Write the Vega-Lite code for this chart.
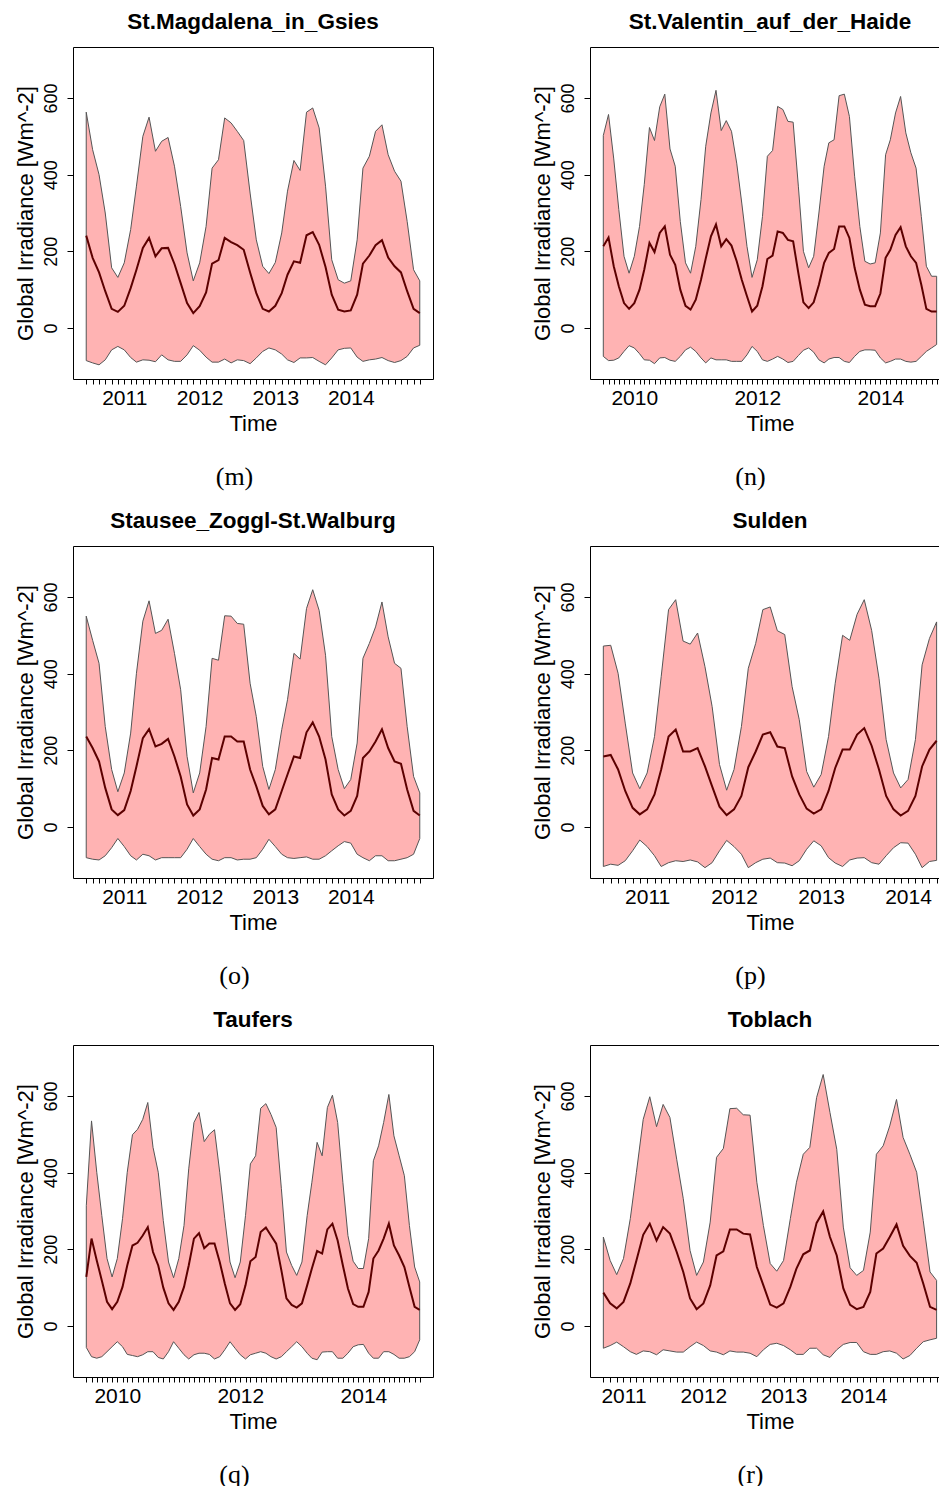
{
"$schema":"https://vega.github.io/schema/vega-lite/v6.json",
"padding":{"left":13,"top":10,"right":0,"bottom":0},
"autosize":{"type":"pad"},
"config":{
 "font":"Liberation Sans",
 "view":{"stroke":"black","strokeWidth":1},
 "axis":{"grid":false,"domain":false,"tickColor":"black","tickWidth":1,"labelColor":"black","titleColor":"black","labelFont":"Liberation Sans","titleFont":"Liberation Sans","titleFontWeight":"normal"},
 "axisX":{"tickSize":5,"labelFontSize":21,"titleFontSize":22,"labelPadding":3,"titlePadding":5,"labelOverlap":false,"labelFlush":false,"labelAngle":0},
 "axisY":{"tickSize":6,"labelFontSize":18,"labelAngle":-90,"labelAlign":"center","labelBaseline":"bottom","labelPadding":7,"titleFontSize":22,"titlePadding":5},
 "title":{"fontSize":22.5,"font":"Liberation Sans","fontWeight":"bold","color":"black"}
},
"datasets":{
"m":[
{"t":"2010-07-01","u":563,"a":241,"l":-85},{"t":"2010-08-01","u":465,"a":183,"l":-91},{"t":"2010-09-01","u":400,"a":145,"l":-96},{"t":"2010-10-01","u":300,"a":96,"l":-83},{"t":"2010-11-01","u":157,"a":50,"l":-57},{"t":"2010-12-01","u":132,"a":42,"l":-48},
{"t":"2011-01-01","u":170,"a":58,"l":-57},{"t":"2011-02-01","u":257,"a":104,"l":-77},{"t":"2011-03-01","u":370,"a":152,"l":-89},{"t":"2011-04-01","u":500,"a":209,"l":-83},{"t":"2011-05-01","u":550,"a":235,"l":-84},{"t":"2011-06-01","u":461,"a":187,"l":-88},{"t":"2011-07-01","u":487,"a":208,"l":-70},{"t":"2011-08-01","u":497,"a":209,"l":-83},{"t":"2011-09-01","u":422,"a":167,"l":-87},{"t":"2011-10-01","u":317,"a":117,"l":-87},{"t":"2011-11-01","u":196,"a":65,"l":-70},{"t":"2011-12-01","u":123,"a":39,"l":-46},
{"t":"2012-01-01","u":170,"a":57,"l":-58},{"t":"2012-02-01","u":265,"a":93,"l":-76},{"t":"2012-03-01","u":417,"a":168,"l":-89},{"t":"2012-04-01","u":439,"a":177,"l":-89},{"t":"2012-05-01","u":548,"a":235,"l":-81},{"t":"2012-06-01","u":535,"a":224,"l":-91},{"t":"2012-07-01","u":513,"a":216,"l":-83},{"t":"2012-08-01","u":489,"a":204,"l":-85},{"t":"2012-09-01","u":352,"a":145,"l":-93},{"t":"2012-10-01","u":230,"a":91,"l":-78},{"t":"2012-11-01","u":161,"a":50,"l":-61},{"t":"2012-12-01","u":142,"a":43,"l":-52},
{"t":"2013-01-01","u":171,"a":58,"l":-57},{"t":"2013-02-01","u":248,"a":91,"l":-68},{"t":"2013-03-01","u":357,"a":139,"l":-83},{"t":"2013-04-01","u":437,"a":174,"l":-90},{"t":"2013-05-01","u":411,"a":170,"l":-78},{"t":"2013-06-01","u":563,"a":242,"l":-78},{"t":"2013-07-01","u":574,"a":250,"l":-77},{"t":"2013-08-01","u":522,"a":217,"l":-87},{"t":"2013-09-01","u":370,"a":159,"l":-96},{"t":"2013-10-01","u":178,"a":87,"l":-78},{"t":"2013-11-01","u":126,"a":48,"l":-57},{"t":"2013-12-01","u":117,"a":43,"l":-53},
{"t":"2014-01-01","u":123,"a":46,"l":-52},{"t":"2014-02-01","u":230,"a":87,"l":-76},{"t":"2014-03-01","u":417,"a":168,"l":-87},{"t":"2014-04-01","u":448,"a":189,"l":-83},{"t":"2014-05-01","u":513,"a":216,"l":-81},{"t":"2014-06-01","u":530,"a":229,"l":-77},{"t":"2014-07-01","u":452,"a":184,"l":-85},{"t":"2014-08-01","u":409,"a":161,"l":-90},{"t":"2014-09-01","u":383,"a":145,"l":-85},{"t":"2014-10-01","u":278,"a":96,"l":-74},{"t":"2014-11-01","u":152,"a":50,"l":-52},{"t":"2014-12-01","u":123,"a":39,"l":-45}
],
"n":[
{"t":"2009-07-01","u":502,"a":213,"l":-74},{"t":"2009-08-01","u":557,"a":236,"l":-85},{"t":"2009-09-01","u":441,"a":161,"l":-84},{"t":"2009-10-01","u":309,"a":109,"l":-78},{"t":"2009-11-01","u":187,"a":65,"l":-61},{"t":"2009-12-01","u":143,"a":50,"l":-46},
{"t":"2010-01-01","u":187,"a":65,"l":-52},{"t":"2010-02-01","u":265,"a":100,"l":-67},{"t":"2010-03-01","u":374,"a":152,"l":-83},{"t":"2010-04-01","u":523,"a":222,"l":-84},{"t":"2010-05-01","u":489,"a":198,"l":-93},{"t":"2010-06-01","u":577,"a":248,"l":-78},{"t":"2010-07-01","u":610,"a":265,"l":-77},{"t":"2010-08-01","u":467,"a":191,"l":-84},{"t":"2010-09-01","u":422,"a":165,"l":-87},{"t":"2010-10-01","u":278,"a":100,"l":-74},{"t":"2010-11-01","u":170,"a":58,"l":-57},{"t":"2010-12-01","u":143,"a":48,"l":-50},
{"t":"2011-01-01","u":213,"a":74,"l":-61},{"t":"2011-02-01","u":335,"a":126,"l":-78},{"t":"2011-03-01","u":474,"a":181,"l":-91},{"t":"2011-04-01","u":561,"a":239,"l":-78},{"t":"2011-05-01","u":620,"a":270,"l":-83},{"t":"2011-06-01","u":515,"a":213,"l":-83},{"t":"2011-07-01","u":541,"a":232,"l":-83},{"t":"2011-08-01","u":513,"a":215,"l":-87},{"t":"2011-09-01","u":430,"a":174,"l":-87},{"t":"2011-10-01","u":326,"a":126,"l":-87},{"t":"2011-11-01","u":213,"a":83,"l":-70},{"t":"2011-12-01","u":132,"a":43,"l":-48},
{"t":"2012-01-01","u":178,"a":58,"l":-61},{"t":"2012-02-01","u":291,"a":109,"l":-83},{"t":"2012-03-01","u":448,"a":180,"l":-87},{"t":"2012-04-01","u":463,"a":189,"l":-81},{"t":"2012-05-01","u":578,"a":252,"l":-74},{"t":"2012-06-01","u":570,"a":248,"l":-81},{"t":"2012-07-01","u":539,"a":230,"l":-90},{"t":"2012-08-01","u":537,"a":226,"l":-87},{"t":"2012-09-01","u":370,"a":143,"l":-72},{"t":"2012-10-01","u":200,"a":67,"l":-58},{"t":"2012-11-01","u":157,"a":52,"l":-52},{"t":"2012-12-01","u":187,"a":67,"l":-63},
{"t":"2013-01-01","u":300,"a":113,"l":-83},{"t":"2013-02-01","u":422,"a":170,"l":-91},{"t":"2013-03-01","u":483,"a":196,"l":-81},{"t":"2013-04-01","u":491,"a":206,"l":-77},{"t":"2013-05-01","u":606,"a":265,"l":-77},{"t":"2013-06-01","u":610,"a":265,"l":-87},{"t":"2013-07-01","u":552,"a":235,"l":-90},{"t":"2013-08-01","u":396,"a":157,"l":-74},{"t":"2013-09-01","u":265,"a":100,"l":-61},{"t":"2013-10-01","u":174,"a":61,"l":-57},{"t":"2013-11-01","u":167,"a":57,"l":-57},{"t":"2013-12-01","u":170,"a":57,"l":-58},
{"t":"2014-01-01","u":248,"a":90,"l":-78},{"t":"2014-02-01","u":452,"a":183,"l":-91},{"t":"2014-03-01","u":491,"a":204,"l":-87},{"t":"2014-04-01","u":561,"a":243,"l":-81},{"t":"2014-05-01","u":604,"a":263,"l":-81},{"t":"2014-06-01","u":509,"a":213,"l":-87},{"t":"2014-07-01","u":457,"a":187,"l":-89},{"t":"2014-08-01","u":417,"a":170,"l":-87},{"t":"2014-09-01","u":291,"a":113,"l":-74},{"t":"2014-10-01","u":161,"a":50,"l":-61},{"t":"2014-11-01","u":135,"a":43,"l":-52},{"t":"2014-12-01","u":135,"a":43,"l":-43}
],
"o":[
{"t":"2010-07-01","u":550,"a":236,"l":-80},{"t":"2010-08-01","u":487,"a":206,"l":-84},{"t":"2010-09-01","u":427,"a":171,"l":-86},{"t":"2010-10-01","u":262,"a":102,"l":-75},{"t":"2010-11-01","u":150,"a":46,"l":-54},{"t":"2010-12-01","u":92,"a":31,"l":-30},
{"t":"2011-01-01","u":141,"a":44,"l":-51},{"t":"2011-02-01","u":245,"a":94,"l":-75},{"t":"2011-03-01","u":401,"a":158,"l":-86},{"t":"2011-04-01","u":537,"a":232,"l":-71},{"t":"2011-05-01","u":590,"a":255,"l":-75},{"t":"2011-06-01","u":505,"a":210,"l":-86},{"t":"2011-07-01","u":513,"a":217,"l":-80},{"t":"2011-08-01","u":542,"a":230,"l":-80},{"t":"2011-09-01","u":453,"a":184,"l":-80},{"t":"2011-10-01","u":358,"a":132,"l":-80},{"t":"2011-11-01","u":184,"a":59,"l":-58},{"t":"2011-12-01","u":89,"a":30,"l":-30},
{"t":"2012-01-01","u":141,"a":46,"l":-51},{"t":"2012-02-01","u":262,"a":98,"l":-71},{"t":"2012-03-01","u":440,"a":180,"l":-84},{"t":"2012-04-01","u":435,"a":176,"l":-88},{"t":"2012-05-01","u":551,"a":236,"l":-80},{"t":"2012-06-01","u":550,"a":236,"l":-80},{"t":"2012-07-01","u":531,"a":223,"l":-86},{"t":"2012-08-01","u":529,"a":223,"l":-84},{"t":"2012-09-01","u":375,"a":150,"l":-84},{"t":"2012-10-01","u":288,"a":106,"l":-80},{"t":"2012-11-01","u":158,"a":55,"l":-58},{"t":"2012-12-01","u":98,"a":33,"l":-32},
{"t":"2013-01-01","u":150,"a":46,"l":-51},{"t":"2013-02-01","u":254,"a":94,"l":-71},{"t":"2013-03-01","u":332,"a":137,"l":-80},{"t":"2013-04-01","u":453,"a":184,"l":-82},{"t":"2013-05-01","u":438,"a":180,"l":-80},{"t":"2013-06-01","u":570,"a":247,"l":-78},{"t":"2013-07-01","u":619,"a":273,"l":-84},{"t":"2013-08-01","u":565,"a":236,"l":-84},{"t":"2013-09-01","u":448,"a":176,"l":-75},{"t":"2013-10-01","u":236,"a":85,"l":-62},{"t":"2013-11-01","u":150,"a":46,"l":-49},{"t":"2013-12-01","u":100,"a":30,"l":-38},
{"t":"2014-01-01","u":124,"a":42,"l":-42},{"t":"2014-02-01","u":219,"a":81,"l":-71},{"t":"2014-03-01","u":440,"a":180,"l":-80},{"t":"2014-04-01","u":479,"a":197,"l":-88},{"t":"2014-05-01","u":522,"a":223,"l":-75},{"t":"2014-06-01","u":587,"a":255,"l":-75},{"t":"2014-07-01","u":496,"a":206,"l":-88},{"t":"2014-08-01","u":427,"a":171,"l":-88},{"t":"2014-09-01","u":414,"a":165,"l":-84},{"t":"2014-10-01","u":262,"a":98,"l":-80},{"t":"2014-11-01","u":132,"a":42,"l":-71},{"t":"2014-12-01","u":89,"a":30,"l":-30}
],
"p":[
{"t":"2010-07-01","u":472,"a":184,"l":-103},{"t":"2010-08-01","u":474,"a":188,"l":-97},{"t":"2010-09-01","u":401,"a":150,"l":-100},{"t":"2010-10-01","u":271,"a":94,"l":-88},{"t":"2010-11-01","u":141,"a":50,"l":-62},{"t":"2010-12-01","u":100,"a":33,"l":-34},
{"t":"2011-01-01","u":141,"a":46,"l":-51},{"t":"2011-02-01","u":236,"a":85,"l":-75},{"t":"2011-03-01","u":392,"a":150,"l":-103},{"t":"2011-04-01","u":567,"a":236,"l":-93},{"t":"2011-05-01","u":593,"a":254,"l":-88},{"t":"2011-06-01","u":485,"a":197,"l":-90},{"t":"2011-07-01","u":477,"a":197,"l":-86},{"t":"2011-08-01","u":506,"a":206,"l":-91},{"t":"2011-09-01","u":418,"a":158,"l":-106},{"t":"2011-10-01","u":314,"a":106,"l":-93},{"t":"2011-11-01","u":163,"a":53,"l":-62},{"t":"2011-12-01","u":96,"a":31,"l":-35},
{"t":"2012-01-01","u":150,"a":46,"l":-51},{"t":"2012-02-01","u":262,"a":81,"l":-71},{"t":"2012-03-01","u":414,"a":156,"l":-106},{"t":"2012-04-01","u":479,"a":197,"l":-93},{"t":"2012-05-01","u":567,"a":241,"l":-84},{"t":"2012-06-01","u":574,"a":247,"l":-81},{"t":"2012-07-01","u":512,"a":210,"l":-93},{"t":"2012-08-01","u":502,"a":206,"l":-94},{"t":"2012-09-01","u":366,"a":132,"l":-101},{"t":"2012-10-01","u":280,"a":85,"l":-88},{"t":"2012-11-01","u":145,"a":48,"l":-58},{"t":"2012-12-01","u":104,"a":35,"l":-36},
{"t":"2013-01-01","u":137,"a":46,"l":-49},{"t":"2013-02-01","u":236,"a":94,"l":-80},{"t":"2013-03-01","u":375,"a":154,"l":-94},{"t":"2013-04-01","u":500,"a":202,"l":-103},{"t":"2013-05-01","u":487,"a":202,"l":-86},{"t":"2013-06-01","u":555,"a":241,"l":-81},{"t":"2013-07-01","u":593,"a":258,"l":-80},{"t":"2013-08-01","u":513,"a":212,"l":-93},{"t":"2013-09-01","u":388,"a":150,"l":-97},{"t":"2013-10-01","u":228,"a":81,"l":-75},{"t":"2013-11-01","u":141,"a":46,"l":-54},{"t":"2013-12-01","u":102,"a":30,"l":-41},
{"t":"2014-01-01","u":124,"a":42,"l":-42},{"t":"2014-02-01","u":228,"a":81,"l":-71},{"t":"2014-03-01","u":423,"a":158,"l":-106},{"t":"2014-04-01","u":492,"a":202,"l":-90},{"t":"2014-05-01","u":535,"a":225,"l":-87}
],
"q":[
{"t":"2009-07-01","u":314,"a":128,"l":-56},{"t":"2009-08-01","u":535,"a":228,"l":-80},{"t":"2009-09-01","u":401,"a":171,"l":-84},{"t":"2009-10-01","u":288,"a":119,"l":-80},{"t":"2009-11-01","u":176,"a":63,"l":-67},{"t":"2009-12-01","u":128,"a":44,"l":-54},
{"t":"2010-01-01","u":176,"a":63,"l":-41},{"t":"2010-02-01","u":280,"a":102,"l":-54},{"t":"2010-03-01","u":401,"a":158,"l":-74},{"t":"2010-04-01","u":499,"a":210,"l":-77},{"t":"2010-05-01","u":513,"a":217,"l":-80},{"t":"2010-06-01","u":539,"a":236,"l":-75},{"t":"2010-07-01","u":583,"a":258,"l":-67},{"t":"2010-08-01","u":466,"a":193,"l":-67},{"t":"2010-09-01","u":401,"a":158,"l":-82},{"t":"2010-10-01","u":275,"a":100,"l":-86},{"t":"2010-11-01","u":167,"a":59,"l":-67},{"t":"2010-12-01","u":126,"a":42,"l":-41},
{"t":"2011-01-01","u":176,"a":63,"l":-58},{"t":"2011-02-01","u":262,"a":102,"l":-75},{"t":"2011-03-01","u":410,"a":158,"l":-86},{"t":"2011-04-01","u":531,"a":228,"l":-75},{"t":"2011-05-01","u":557,"a":242,"l":-71},{"t":"2011-06-01","u":481,"a":203,"l":-71},{"t":"2011-07-01","u":500,"a":215,"l":-74},{"t":"2011-08-01","u":512,"a":215,"l":-86},{"t":"2011-09-01","u":401,"a":167,"l":-80},{"t":"2011-10-01","u":280,"a":111,"l":-62},{"t":"2011-11-01","u":167,"a":59,"l":-41},{"t":"2011-12-01","u":126,"a":42,"l":-58},
{"t":"2012-01-01","u":167,"a":57,"l":-75},{"t":"2012-02-01","u":288,"a":106,"l":-86},{"t":"2012-03-01","u":423,"a":169,"l":-75},{"t":"2012-04-01","u":444,"a":180,"l":-71},{"t":"2012-05-01","u":568,"a":245,"l":-67},{"t":"2012-06-01","u":580,"a":257,"l":-71},{"t":"2012-07-01","u":552,"a":236,"l":-80},{"t":"2012-08-01","u":518,"a":215,"l":-86},{"t":"2012-09-01","u":358,"a":145,"l":-80},{"t":"2012-10-01","u":193,"a":72,"l":-67},{"t":"2012-11-01","u":158,"a":55,"l":-54},{"t":"2012-12-01","u":132,"a":48,"l":-41},
{"t":"2013-01-01","u":167,"a":59,"l":-54},{"t":"2013-02-01","u":288,"a":106,"l":-71},{"t":"2013-03-01","u":375,"a":150,"l":-84},{"t":"2013-04-01","u":479,"a":196,"l":-88},{"t":"2013-05-01","u":444,"a":189,"l":-68},{"t":"2013-06-01","u":570,"a":252,"l":-67},{"t":"2013-07-01","u":602,"a":267,"l":-67},{"t":"2013-08-01","u":531,"a":223,"l":-84},{"t":"2013-09-01","u":375,"a":158,"l":-84},{"t":"2013-10-01","u":236,"a":98,"l":-71},{"t":"2013-11-01","u":169,"a":57,"l":-54},{"t":"2013-12-01","u":150,"a":50,"l":-49},
{"t":"2014-01-01","u":150,"a":50,"l":-48},{"t":"2014-02-01","u":228,"a":89,"l":-71},{"t":"2014-03-01","u":431,"a":176,"l":-84},{"t":"2014-04-01","u":470,"a":197,"l":-84},{"t":"2014-05-01","u":531,"a":228,"l":-67},{"t":"2014-06-01","u":604,"a":267,"l":-67},{"t":"2014-07-01","u":496,"a":210,"l":-74},{"t":"2014-08-01","u":444,"a":184,"l":-84},{"t":"2014-09-01","u":392,"a":154,"l":-84},{"t":"2014-10-01","u":262,"a":102,"l":-80},{"t":"2014-11-01","u":154,"a":50,"l":-67},{"t":"2014-12-01","u":115,"a":42,"l":-36}
],
"r":[
{"t":"2010-10-01","u":232,"a":87,"l":-58},{"t":"2010-11-01","u":171,"a":59,"l":-51},{"t":"2010-12-01","u":134,"a":46,"l":-42},
{"t":"2011-01-01","u":176,"a":63,"l":-54},{"t":"2011-02-01","u":280,"a":111,"l":-67},{"t":"2011-03-01","u":401,"a":171,"l":-74},{"t":"2011-04-01","u":539,"a":238,"l":-65},{"t":"2011-05-01","u":598,"a":267,"l":-67},{"t":"2011-06-01","u":520,"a":223,"l":-75},{"t":"2011-07-01","u":578,"a":258,"l":-62},{"t":"2011-08-01","u":544,"a":241,"l":-65},{"t":"2011-09-01","u":435,"a":193,"l":-68},{"t":"2011-10-01","u":332,"a":141,"l":-68},{"t":"2011-11-01","u":197,"a":72,"l":-54},{"t":"2011-12-01","u":132,"a":44,"l":-42},
{"t":"2012-01-01","u":167,"a":59,"l":-51},{"t":"2012-02-01","u":271,"a":106,"l":-65},{"t":"2012-03-01","u":440,"a":184,"l":-68},{"t":"2012-04-01","u":463,"a":195,"l":-75},{"t":"2012-05-01","u":567,"a":252,"l":-65},{"t":"2012-06-01","u":568,"a":252,"l":-68},{"t":"2012-07-01","u":551,"a":241,"l":-68},{"t":"2012-08-01","u":550,"a":239,"l":-71},{"t":"2012-09-01","u":375,"a":154,"l":-80},{"t":"2012-10-01","u":262,"a":106,"l":-62},{"t":"2012-11-01","u":163,"a":56,"l":-48},{"t":"2012-12-01","u":143,"a":48,"l":-45},
{"t":"2013-01-01","u":171,"a":59,"l":-51},{"t":"2013-02-01","u":280,"a":102,"l":-62},{"t":"2013-03-01","u":375,"a":150,"l":-74},{"t":"2013-04-01","u":448,"a":187,"l":-74},{"t":"2013-05-01","u":466,"a":197,"l":-58},{"t":"2013-06-01","u":596,"a":269,"l":-58},{"t":"2013-07-01","u":656,"a":299,"l":-75},{"t":"2013-08-01","u":557,"a":232,"l":-82},{"t":"2013-09-01","u":461,"a":184,"l":-62},{"t":"2013-10-01","u":258,"a":98,"l":-48},{"t":"2013-11-01","u":152,"a":55,"l":-43},{"t":"2013-12-01","u":132,"a":44,"l":-43},
{"t":"2014-01-01","u":145,"a":50,"l":-67},{"t":"2014-02-01","u":245,"a":89,"l":-74},{"t":"2014-03-01","u":448,"a":189,"l":-74},{"t":"2014-04-01","u":470,"a":202,"l":-67},{"t":"2014-05-01","u":522,"a":232,"l":-65},{"t":"2014-06-01","u":591,"a":265,"l":-71},{"t":"2014-07-01","u":492,"a":209,"l":-86},{"t":"2014-08-01","u":448,"a":183,"l":-77},{"t":"2014-09-01","u":401,"a":165,"l":-58},{"t":"2014-10-01","u":275,"a":111,"l":-41},{"t":"2014-11-01","u":141,"a":50,"l":-36},{"t":"2014-12-01","u":119,"a":42,"l":-32}
]
},
"spacing":19,
"vconcat":[
{"hconcat":[
 {"vconcat":[{"width":360,"height":332,"data":{"name":"m"},"title":{"text":"St.Magdalena_in_Gsies","frame":"group","baseline":"alphabetic","offset":-4},
  "encoding":{"x":{"field":"t","type":"temporal","scale":{"type":"utc","domain":[{"year":2010,"month":4,"date":28,"utc":true},{"year":2015,"month":2,"date":3,"utc":true}]},"axis":{"title":"Time","titleX":180,"tickCount":{"interval":"month","step":1},"tickOpacity":{"condition":{"test":"datum.value >= utc(2010,5,20) && datum.value <= utc(2014,11,10)","value":1},"value":0},"labelExpr":"utcmonth(datum.value)==0 && datum.value <= utc(2014,11,10) ? utcFormat(datum.value,'%Y') : ''"}}},
  "layer":[
   {"mark":{"type":"area","fill":"#FFB3B3","fillOpacity":1,"stroke":"#555555","strokeWidth":1,"clip":true},"encoding":{"y":{"field":"u","type":"quantitative","scale":{"domain":[-133,733],"nice":false,"zero":false},"axis":{"title":"Global Irradiance [Wm^-2]","values":[0,200,400,600]}},"y2":{"field":"l"}}},
   {"mark":{"type":"line","color":"#5C0000","strokeWidth":2,"clip":true},"encoding":{"y":{"field":"a","type":"quantitative","axis":{"title":"Global Irradiance [Wm^-2]","values":[0,200,400,600]}}}}
  ]}],
  "title":{"text":"(m)","orient":"bottom","anchor":"middle","font":"Liberation Serif","fontSize":26,"fontWeight":"normal","offset":29,"dx":11}},
 {"vconcat":[{"width":349,"height":332,"data":{"name":"n"},"title":{"text":"St.Valentin_auf_der_Haide","frame":"group","baseline":"alphabetic","offset":-4,"dx":5.5},
  "encoding":{"x":{"field":"t","type":"temporal","scale":{"type":"utc","domain":[{"year":2009,"month":4,"date":13,"utc":true},{"year":2014,"month":12,"date":15,"utc":true}]},"axis":{"title":"Time","titleX":180,"tickCount":{"interval":"month","step":1},"tickOpacity":{"condition":{"test":"datum.value >= utc(2009,5,20) && datum.value <= utc(2014,11,10)","value":1},"value":0},"labelExpr":"utcmonth(datum.value)==0 && utcyear(datum.value)%2==0 ? utcFormat(datum.value,'%Y') : ''"}}},
  "layer":[
   {"mark":{"type":"area","fill":"#FFB3B3","fillOpacity":1,"stroke":"#555555","strokeWidth":1,"clip":true},"encoding":{"y":{"field":"u","type":"quantitative","scale":{"domain":[-133,733],"nice":false,"zero":false},"axis":{"title":"Global Irradiance [Wm^-2]","values":[0,200,400,600]}},"y2":{"field":"l"}}},
   {"mark":{"type":"line","color":"#5C0000","strokeWidth":2,"clip":true},"encoding":{"y":{"field":"a","type":"quantitative","axis":{"title":"Global Irradiance [Wm^-2]","values":[0,200,400,600]}}}}
  ]}],
  "title":{"text":"(n)","orient":"bottom","anchor":"middle","font":"Liberation Serif","fontSize":26,"fontWeight":"normal","offset":29,"dx":15.5}}
],"spacing":96},
{"hconcat":[
 {"vconcat":[{"width":360,"height":332,"data":{"name":"o"},"title":{"text":"Stausee_Zoggl-St.Walburg","frame":"group","baseline":"alphabetic","offset":-4},
  "encoding":{"x":{"field":"t","type":"temporal","scale":{"type":"utc","domain":[{"year":2010,"month":4,"date":28,"utc":true},{"year":2015,"month":2,"date":3,"utc":true}]},"axis":{"title":"Time","titleX":180,"tickCount":{"interval":"month","step":1},"tickOpacity":{"condition":{"test":"datum.value >= utc(2010,5,20) && datum.value <= utc(2014,11,10)","value":1},"value":0},"labelExpr":"utcmonth(datum.value)==0 && datum.value <= utc(2014,11,10) ? utcFormat(datum.value,'%Y') : ''"}}},
  "layer":[
   {"mark":{"type":"area","fill":"#FFB3B3","fillOpacity":1,"stroke":"#555555","strokeWidth":1,"clip":true},"encoding":{"y":{"field":"u","type":"quantitative","scale":{"domain":[-133,733],"nice":false,"zero":false},"axis":{"title":"Global Irradiance [Wm^-2]","values":[0,200,400,600]}},"y2":{"field":"l"}}},
   {"mark":{"type":"line","color":"#5C0000","strokeWidth":2,"clip":true},"encoding":{"y":{"field":"a","type":"quantitative","axis":{"title":"Global Irradiance [Wm^-2]","values":[0,200,400,600]}}}}
  ]}],
  "title":{"text":"(o)","orient":"bottom","anchor":"middle","font":"Liberation Serif","fontSize":26,"fontWeight":"normal","offset":29,"dx":11}},
 {"vconcat":[{"width":349,"height":332,"data":{"name":"p"},"title":{"text":"Sulden","frame":"group","baseline":"alphabetic","offset":-4,"dx":5.5},
  "encoding":{"x":{"field":"t","type":"temporal","scale":{"type":"utc","domain":[{"year":2010,"month":5,"date":6,"utc":true},{"year":2014,"month":5,"date":11,"utc":true}]},"axis":{"title":"Time","titleX":180,"tickCount":{"interval":"month","step":1},"tickOpacity":{"condition":{"test":"datum.value >= utc(2010,5,20) && datum.value <= utc(2014,4,10)","value":1},"value":0},"labelExpr":"utcmonth(datum.value)==0 ? utcFormat(datum.value,'%Y') : ''"}}},
  "layer":[
   {"mark":{"type":"area","fill":"#FFB3B3","fillOpacity":1,"stroke":"#555555","strokeWidth":1,"clip":true},"encoding":{"y":{"field":"u","type":"quantitative","scale":{"domain":[-133,733],"nice":false,"zero":false},"axis":{"title":"Global Irradiance [Wm^-2]","values":[0,200,400,600]}},"y2":{"field":"l"}}},
   {"mark":{"type":"line","color":"#5C0000","strokeWidth":2,"clip":true},"encoding":{"y":{"field":"a","type":"quantitative","axis":{"title":"Global Irradiance [Wm^-2]","values":[0,200,400,600]}}}}
  ]}],
  "title":{"text":"(p)","orient":"bottom","anchor":"middle","font":"Liberation Serif","fontSize":26,"fontWeight":"normal","offset":29,"dx":15.5}}
],"spacing":96},
{"hconcat":[
 {"vconcat":[{"width":360,"height":332,"data":{"name":"q"},"title":{"text":"Taufers","frame":"group","baseline":"alphabetic","offset":-4},
  "encoding":{"x":{"field":"t","type":"temporal","scale":{"type":"utc","domain":[{"year":2009,"month":4,"date":13,"utc":true},{"year":2015,"month":2,"date":18,"utc":true}]},"axis":{"title":"Time","titleX":180,"tickCount":{"interval":"month","step":1},"tickOpacity":{"condition":{"test":"datum.value >= utc(2009,5,20) && datum.value <= utc(2014,11,10)","value":1},"value":0},"labelExpr":"utcmonth(datum.value)==0 && utcyear(datum.value)%2==0 && datum.value <= utc(2014,11,10) ? utcFormat(datum.value,'%Y') : ''"}}},
  "layer":[
   {"mark":{"type":"area","fill":"#FFB3B3","fillOpacity":1,"stroke":"#555555","strokeWidth":1,"clip":true},"encoding":{"y":{"field":"u","type":"quantitative","scale":{"domain":[-133,733],"nice":false,"zero":false},"axis":{"title":"Global Irradiance [Wm^-2]","values":[0,200,400,600]}},"y2":{"field":"l"}}},
   {"mark":{"type":"line","color":"#5C0000","strokeWidth":2,"clip":true},"encoding":{"y":{"field":"a","type":"quantitative","axis":{"title":"Global Irradiance [Wm^-2]","values":[0,200,400,600]}}}}
  ]}],
  "title":{"text":"(q)","orient":"bottom","anchor":"middle","font":"Liberation Serif","fontSize":26,"fontWeight":"normal","offset":29,"dx":11}},
 {"vconcat":[{"width":349,"height":332,"data":{"name":"r"},"title":{"text":"Toblach","frame":"group","baseline":"alphabetic","offset":-4,"dx":5.5},
  "encoding":{"x":{"field":"t","type":"temporal","scale":{"type":"utc","domain":[{"year":2010,"month":8,"date":1,"utc":true},{"year":2014,"month":12,"date":12,"utc":true}]},"axis":{"title":"Time","titleX":180,"tickCount":{"interval":"month","step":1},"tickOpacity":{"condition":{"test":"datum.value >= utc(2010,8,20) && datum.value <= utc(2014,11,10)","value":1},"value":0},"labelExpr":"utcmonth(datum.value)==0 ? utcFormat(datum.value,'%Y') : ''"}}},
  "layer":[
   {"mark":{"type":"area","fill":"#FFB3B3","fillOpacity":1,"stroke":"#555555","strokeWidth":1,"clip":true},"encoding":{"y":{"field":"u","type":"quantitative","scale":{"domain":[-133,733],"nice":false,"zero":false},"axis":{"title":"Global Irradiance [Wm^-2]","values":[0,200,400,600]}},"y2":{"field":"l"}}},
   {"mark":{"type":"line","color":"#5C0000","strokeWidth":2,"clip":true},"encoding":{"y":{"field":"a","type":"quantitative","axis":{"title":"Global Irradiance [Wm^-2]","values":[0,200,400,600]}}}}
  ]}],
  "title":{"text":"(r)","orient":"bottom","anchor":"middle","font":"Liberation Serif","fontSize":26,"fontWeight":"normal","offset":29,"dx":15.5}}
],"spacing":96}
]
}
